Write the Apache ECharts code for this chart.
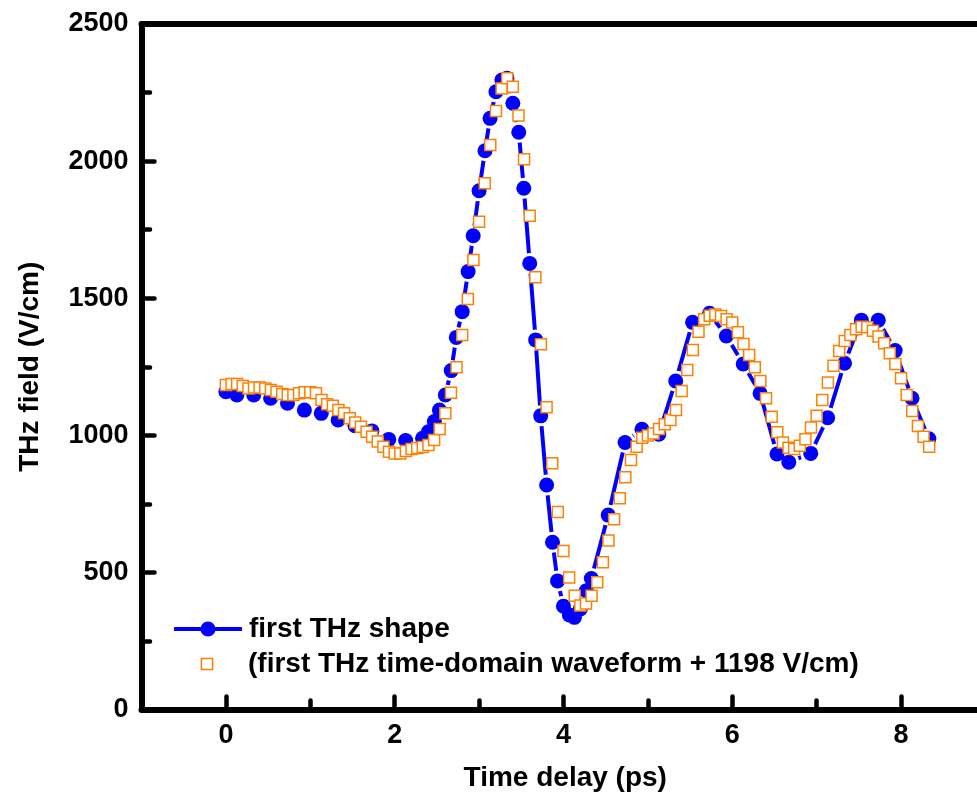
<!DOCTYPE html>
<html>
<head>
<meta charset="utf-8">
<script src="https://cdn.jsdelivr.net/npm/echarts@6/dist/echarts.min.js"></script>
<style>html,body{margin:0;padding:0;background:#fff}#c{width:977px;height:800px}</style>
</head>
<body>
<div id="c"></div>
<script>
// ---- data ----
const blueTime = [0,0.13,0.33,0.53,0.73,0.93,1.13,1.33,1.53,1.73,1.93,2.13,2.33,2.4,2.47,2.53,2.6,2.67,2.73,2.8,2.87,2.93,3.0,3.07,3.13,3.2,3.27,3.33,3.4,3.47,3.53,3.6,3.67,3.73,3.8,3.87,3.93,4.0,4.07,4.13,4.2,4.27,4.33,4.53,4.73,4.93,5.13,5.33,5.53,5.73,5.93,6.13,6.33,6.53,6.67,6.93,7.13,7.33,7.53,7.73,7.93,8.13,8.33];
const blueField = [1159,1147,1147,1135,1117,1092,1080,1056,1035,1016,985,981,989,1013,1050,1092,1147,1236,1357,1451,1597,1728,1892,2038,2156,2253,2296,2302,2211,2105,1901,1627,1348,1071,819,610,469,377,345,336,367,433,478,709,974,1022,1004,1198,1412,1445,1362,1260,1153,932,902,934,1064,1263,1420,1420,1309,1135,987];

const orangeTime = [0,0.067,0.133,0.2,0.267,0.333,0.4,0.467,0.533,0.6,0.667,0.733,0.8,0.867,0.933,
1,1.067,1.133,1.2,1.267,1.333,1.4,1.467,1.533,1.6,1.667,1.733,1.8,1.867,1.933,
2,2.067,2.133,2.2,2.267,2.333,2.4,2.467,2.533,2.6,2.667,2.733,2.8,2.867,2.933,
3,3.067,3.133,3.2,3.267,3.333,3.4,3.467,3.533,3.6,3.667,3.733,3.8,3.867,3.933,
4,4.067,4.133,4.2,4.267,4.333,4.4,4.467,4.533,4.6,4.667,4.733,4.8,4.867,4.933,
5,5.067,5.133,5.2,5.267,5.333,5.4,5.467,5.533,5.6,5.667,5.733,5.8,5.867,5.933,
6,6.067,6.133,6.2,6.267,6.333,6.4,6.467,6.533,6.6,6.667,6.733,6.8,6.867,6.933,
7,7.067,7.133,7.2,7.267,7.333,7.4,7.467,7.533,7.6,7.667,7.733,7.8,7.867,7.933,
8,8.067,8.133,8.2,8.267,8.333];
const orangeField = [1183,1187,1187,1180,1171,1174,1174,1171,1165,1159,1151,1147,1147,1153,1157,
1157,1153,1129,1113,1108,1092,1080,1062,1047,1031,1013,995,977,958,940,
934,934,943,950,954,957,965,983,1023,1080,1155,1248,1366,1497,1639,
1779,1919,2059,2183,2265,2302,2271,2166,2007,1801,1576,1332,1102,898,720,
578,481,415,379,387,415,464,537,616,694,770,847,910,958,991,
999,1007,1023,1040,1056,1092,1162,1238,1311,1378,1423,1436,1441,1435,1423,
1411,1376,1333,1293,1248,1198,1135,1068,1011,974,955,950,962,986,1028,
1071,1129,1193,1254,1307,1344,1366,1387,1396,1394,1381,1360,1336,1299,1260,
1208,1147,1089,1034,995,958];

const xMajorTicks = [0,2,4,6,8];
const xMinorTicks = [1,3,5,7];
const yTicks = [0,500,1000,1500,2000,2500];

const blueName = 'first THz shape';
const orangeName = '(first THz time-domain waveform + 1198 V/cm)';

const bluePts = blueTime.map((t,i)=>[t, blueField[i]]);
const orangePts = orangeTime.map((t,i)=>[t, orangeField[i]]);

const FONT = "'Liberation Sans', Arial, sans-serif";
const BLUE = '#0000ff';
const ORANGE = '#ff8000';

const chart = echarts.init(document.getElementById('c'), null, {renderer:'canvas'});
const xBase = {
  type:'value', min:-1, max:8.9, gridIndex:0,
  splitLine:{show:false}
};
chart.setOption({
  animation:false,
  backgroundColor:'#fff',
  grid:{left:141.5, right:0, top:24, bottom:90.5, containLabel:false},
  legend:[
    {left:172, top:615, padding:0, orient:'vertical', itemWidth:68, itemHeight:19, itemGap:10,
     textStyle:{fontFamily:FONT, fontWeight:'bold', fontSize:28, color:'#000', padding:[0,0,0,2]},
     selectedMode:false,
     data:[{name:blueName, lineStyle:{opacity:1, color:BLUE, width:4}, itemStyle:{color:BLUE}}]},
    {left:172, top:650, padding:0, orient:'vertical', itemWidth:68, itemHeight:14,
     textStyle:{fontFamily:FONT, fontWeight:'bold', fontSize:28, color:'#000', padding:[0,0,0,2]},
     selectedMode:false,
     data:[{name:orangeName, itemStyle:{color:'#fff', borderColor:ORANGE, borderWidth:1.5}}]}
  ],
  xAxis:[
    Object.assign({}, xBase, {
      position:'bottom',
      axisLine:{show:true, onZero:false, lineStyle:{color:'#000', width:6}},
      axisTick:{show:true, inside:true, length:13, customValues:xMajorTicks, lineStyle:{color:'#000', width:4.5, cap:'round'}},
      axisLabel:{show:true, customValues:xMajorTicks, margin:13, color:'#000', fontFamily:FONT, fontWeight:'bold', fontSize:27},
      name:'Time delay (ps)', nameLocation:'middle', nameGap:55,
      nameTextStyle:{fontFamily:FONT, fontWeight:'bold', fontSize:28, color:'#000', padding:[0,0,0,12]}
    }),
    Object.assign({}, xBase, {
      position:'bottom',
      axisLine:{show:false, onZero:false},
      axisTick:{show:true, inside:true, length:9, customValues:xMinorTicks, lineStyle:{color:'#000', width:4.5, cap:'round'}},
      axisLabel:{show:false}
    }),
    Object.assign({}, xBase, {
      position:'top',
      axisLine:{show:true, onZero:false, lineStyle:{color:'#000', width:6}},
      axisTick:{show:false},
      axisLabel:{show:false}
    })
  ],
  yAxis:[{
    type:'value', min:0, max:2500, interval:500, position:'left',
    axisLine:{show:true, onZero:false, lineStyle:{color:'#000', width:6}},
    axisTick:{show:true, inside:true, length:13, lineStyle:{color:'#000', width:4.5, cap:'round'}},
    minorTick:{show:true, splitNumber:2, length:8.5, lineStyle:{color:'#000', width:4.5, cap:'round'}},
    axisLabel:{show:true, margin:13, color:'#000', fontFamily:FONT, fontWeight:'bold', fontSize:27,
      formatter:(v)=> yTicks.indexOf(v) >= 0 ? String(v) : ''},
    splitLine:{show:false},
    name:'THz field (V/cm)', nameLocation:'middle', nameGap:97, nameRotate:90,
    nameTextStyle:{fontFamily:FONT, fontWeight:'bold', fontSize:28, color:'#000'}
  }],
  series:[
    {name:'blueLine', type:'line', xAxisIndex:0, data:bluePts, showSymbol:false, symbol:'none',
     lineStyle:{color:BLUE, width:4}, silent:true, z:2},
    {name:'halo', type:'scatter', xAxisIndex:0, data:bluePts, symbol:'circle', symbolSize:21,
     itemStyle:{color:'#fff', opacity:1}, silent:true, z:2},
    {name:blueName, type:'line', xAxisIndex:0, data:bluePts, symbol:'circle', symbolSize:15, showAllSymbol:true,
     itemStyle:{color:BLUE, opacity:1}, lineStyle:{color:BLUE, width:4, opacity:0}, z:2},
    {name:orangeName, type:'line', xAxisIndex:0, data:orangePts, symbol:'rect', symbolSize:11, showAllSymbol:true,
     itemStyle:{color:'#fff', borderColor:ORANGE, borderWidth:1.5, opacity:1}, lineStyle:{opacity:0}, z:2}
  ]
});
</script>
</body>
</html>
